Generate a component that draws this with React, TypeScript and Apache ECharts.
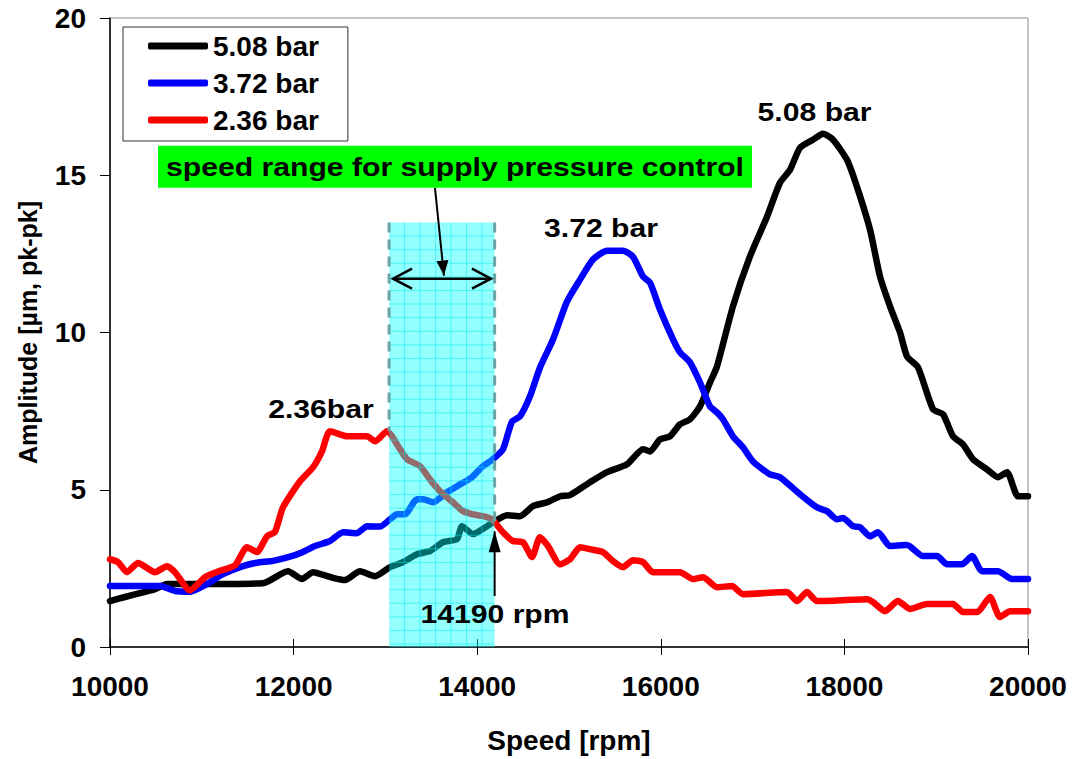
import React, { useEffect, useRef } from "react";
import * as echarts from "echarts";

// ---- Data (speed in rpm, amplitude in µm pk-pk) ----
const SPEED_508 = [10000, 10163, 10359, 10490, 10621, 10850, 11667, 11939, 12091, 12211, 12429, 12560, 12723, 12887, 13050, 13192, 13344, 13486, 13627, 13780, 13834, 13954, 14107, 14172, 14325, 14466, 14608, 14760, 14902, 15011, 15229, 15414, 15632, 15806, 15882, 15991, 16100, 16209, 16318, 16427, 16536, 16612, 16786, 16970, 17157, 17298, 17407, 17516, 17658, 17767, 17876, 18028, 18137, 18279, 18388, 18497, 18606, 18682, 18802, 18965, 19074, 19183, 19292, 19401, 19553, 19673, 19771, 19891, 20000];
const AMP_508 = [1.46, 1.59, 1.74, 1.84, 2.0, 2.0, 2.03, 2.41, 2.16, 2.38, 2.2, 2.13, 2.41, 2.25, 2.54, 2.7, 2.95, 3.05, 3.33, 3.43, 3.84, 3.59, 3.84, 3.97, 4.19, 4.16, 4.48, 4.6, 4.79, 4.83, 5.24, 5.56, 5.81, 6.29, 6.22, 6.6, 6.7, 7.08, 7.24, 7.65, 8.41, 8.92, 10.83, 12.41, 13.68, 14.76, 15.17, 15.87, 16.13, 16.32, 16.13, 15.49, 14.63, 13.27, 11.78, 10.83, 10.0, 9.24, 8.89, 7.56, 7.4, 6.7, 6.44, 5.97, 5.65, 5.4, 5.56, 4.79, 4.79];

const SPEED_372 = [10000, 10545, 10708, 10871, 11057, 11220, 11449, 11601, 11776, 11961, 12102, 12233, 12396, 12538, 12691, 12800, 12941, 13050, 13126, 13213, 13344, 13410, 13518, 13671, 13813, 13943, 14063, 14161, 14281, 14379, 14466, 14575, 14684, 14826, 14978, 15120, 15261, 15414, 15588, 15697, 15806, 15882, 15991, 16133, 16209, 16318, 16427, 16536, 16612, 16677, 16786, 16895, 17004, 17189, 17298, 17516, 17701, 17810, 17919, 17985, 18094, 18170, 18279, 18366, 18497, 18682, 18856, 19009, 19118, 19281, 19390, 19499, 19673, 19826, 20000];
const AMP_372 = [1.94, 1.94, 1.78, 1.76, 2.0, 2.3, 2.57, 2.68, 2.74, 2.87, 3.02, 3.21, 3.37, 3.65, 3.62, 3.84, 3.83, 4.06, 4.22, 4.22, 4.7, 4.7, 4.6, 4.92, 5.17, 5.4, 5.75, 5.95, 6.29, 7.17, 7.33, 7.97, 8.89, 9.78, 10.98, 11.68, 12.32, 12.6, 12.6, 12.41, 11.78, 11.59, 10.73, 9.78, 9.37, 9.05, 8.41, 7.65, 7.46, 7.24, 6.7, 6.35, 5.9, 5.49, 5.4, 4.86, 4.44, 4.32, 4.06, 4.1, 3.84, 3.81, 3.52, 3.65, 3.21, 3.24, 2.89, 2.89, 2.63, 2.63, 2.89, 2.41, 2.41, 2.16, 2.16];

const SPEED_236 = [10000, 10087, 10185, 10305, 10490, 10621, 10708, 10871, 11035, 11176, 11362, 11492, 11601, 11710, 11797, 11884, 12070, 12211, 12309, 12396, 12582, 12800, 12887, 13017, 13159, 13235, 13377, 13486, 13595, 13736, 13845, 13954, 14063, 14161, 14281, 14390, 14499, 14597, 14684, 14771, 14902, 15011, 15120, 15229, 15370, 15479, 15588, 15697, 15806, 15915, 16209, 16350, 16460, 16612, 16775, 16895, 17375, 17483, 17592, 17701, 18246, 18311, 18442, 18584, 18714, 18900, 19183, 19292, 19444, 19586, 19695, 19804, 20000];
const AMP_236 = [2.79, 2.7, 2.38, 2.67, 2.38, 2.57, 2.38, 1.8, 2.22, 2.4, 2.6, 3.17, 3.02, 3.52, 3.66, 4.44, 5.27, 5.71, 6.22, 6.86, 6.7, 6.7, 6.54, 6.86, 6.29, 5.97, 5.75, 5.33, 4.95, 4.6, 4.32, 4.22, 4.16, 4.06, 3.65, 3.37, 3.33, 2.86, 3.49, 3.21, 2.63, 2.79, 3.17, 3.11, 3.02, 2.73, 2.54, 2.76, 2.7, 2.38, 2.38, 2.16, 2.22, 1.9, 1.94, 1.68, 1.75, 1.46, 1.75, 1.46, 1.52, 1.43, 1.14, 1.46, 1.21, 1.37, 1.37, 1.11, 1.11, 1.59, 0.95, 1.14, 1.14];

const SERIES_NAMES = ["5.08 bar", "3.72 bar", "2.36 bar"];
const SERIES_COLORS = ["#000000", "#0000ff", "#ff0000"];

const X_MIN = 10000;
const X_MAX = 20000;
const X_STEP = 2000;
const Y_MIN = 0;
const Y_MAX = 20;
const Y_STEP = 5;

// Annotation anchors (data coordinates)
const SHADE_FROM = 13040;
const SHADE_TO = 14190;
const SHADE_TOP = 13.5;
const DASH_LEFT_BOTTOM = 6.86;
const DASH_RIGHT_BOTTOM = 4.0;
const RANGE_ARROW_Y = 11.71;
const RANGE_ARROW_FROM = 13083;
const RANGE_ARROW_TO = 14150;
const BOX_LEFT = 10523;
const BOX_RIGHT = 16993;
const BOX_TOP = 15.94;
const BOX_BOTTOM = 14.6;
const BOX_TEXT = "speed range for supply pressure control";
const POINTER_FROM = [13540, 14.6];
const POINTER_TO = [13638, 11.81];
const RPM_ARROW_FROM = [14190, 1.62];
const RPM_ARROW_TO = [14190, 3.68];
const RPM_TEXT = "14190 rpm";
const RPM_TEXT_AT = [14194, 1.05];
const PEAK_LABELS = [
  { text: "5.08 bar", at: [17675, 17.0] },
  { text: "3.72 bar", at: [15349, 13.33] },
  { text: "2.36bar", at: [12298, 7.56] },
];

const FONT = "'Liberation Sans', Arial, Helvetica, sans-serif";

const zip = (xs: number[], ys: number[]) => xs.map((x, i) => [x, ys[i]]);

function arrowHead(tip: number[], from: number[], len: number, half: number) {
  const dx = tip[0] - from[0];
  const dy = tip[1] - from[1];
  const d = Math.hypot(dx, dy) || 1;
  const ux = dx / d;
  const uy = dy / d;
  const bx = tip[0] - ux * len;
  const by = tip[1] - uy * len;
  return [
    [tip[0], tip[1]],
    [bx - uy * half, by + ux * half],
    [bx + uy * half, by - ux * half],
  ];
}

function textEl(text: string, p: number[], size: number) {
  return {
    type: "text",
    x: p[0],
    y: p[1],
    scaleX: 1.16,
    style: {
      text,
      fontSize: size,
      fontWeight: "bold",
      fontFamily: FONT,
      fill: "#000",
      align: "center",
      verticalAlign: "middle",
    },
  };
}

function renderAnnotations(_params: any, api: any) {
  const c = (x: number, y: number) => api.coord([x, y]);
  const [sx0, sy0] = c(SHADE_FROM, SHADE_TOP);
  const [sx1, sy1] = c(SHADE_TO, Y_MIN);
  const kids: any[] = [];

  // shaded speed range
  kids.push({
    type: "rect",
    shape: { x: sx0, y: sy0, width: sx1 - sx0, height: sy1 - sy0 },
    style: { fill: "rgba(0,255,255,0.42)" },
  });
  for (let gx = sx0 + 15.5; gx < sx1 - 3; gx += 15.5) {
    kids.push({
      type: "line",
      shape: { x1: gx, y1: sy0, x2: gx, y2: sy1 },
      style: { stroke: "rgba(0,235,245,0.5)", lineWidth: 1 },
    });
  }
  for (let gy = sy0 + 13.6; gy < sy1 - 2; gy += 13.6) {
    kids.push({
      type: "line",
      shape: { x1: sx0, y1: gy, x2: sx1, y2: gy },
      style: { stroke: "rgba(0,235,245,0.5)", lineWidth: 1 },
    });
  }
  // dashed edges
  const [, dl] = c(SHADE_FROM, DASH_LEFT_BOTTOM);
  const [, dr] = c(SHADE_TO, DASH_RIGHT_BOTTOM);
  kids.push({
    type: "line",
    shape: { x1: sx0, y1: sy0, x2: sx0, y2: dl },
    style: { stroke: "#6aa4a4", lineWidth: 3, lineDash: [10, 7] },
  });
  kids.push({
    type: "line",
    shape: { x1: sx1, y1: sy0, x2: sx1, y2: dr },
    style: { stroke: "#6aa4a4", lineWidth: 3, lineDash: [10, 7] },
  });

  // double-headed range arrow
  const a0 = c(RANGE_ARROW_FROM, RANGE_ARROW_Y);
  const a1 = c(RANGE_ARROW_TO, RANGE_ARROW_Y);
  kids.push({
    type: "line",
    shape: { x1: a0[0], y1: a0[1], x2: a1[0], y2: a1[1] },
    style: { stroke: "#000", lineWidth: 2.5 },
  });
  kids.push({
    type: "polyline",
    shape: { points: [[a0[0] + 19, a0[1] - 10], a0, [a0[0] + 19, a0[1] + 10]] },
    style: { stroke: "#000", lineWidth: 2.5, fill: null },
  });
  kids.push({
    type: "polyline",
    shape: { points: [[a1[0] - 19, a1[1] - 10], a1, [a1[0] - 19, a1[1] + 10]] },
    style: { stroke: "#000", lineWidth: 2.5, fill: null },
  });

  // pointer from label box
  const p0 = c(POINTER_FROM[0], POINTER_FROM[1]);
  const p1 = c(POINTER_TO[0], POINTER_TO[1]);
  kids.push({
    type: "line",
    shape: { x1: p0[0], y1: p0[1], x2: p1[0], y2: p1[1] },
    style: { stroke: "#000", lineWidth: 2 },
  });
  kids.push({
    type: "polygon",
    shape: { points: arrowHead(p1, p0, 15, 6) },
    style: { fill: "#000" },
  });

  // 14190 rpm arrow
  const r0 = c(RPM_ARROW_FROM[0], RPM_ARROW_FROM[1]);
  const r1 = c(RPM_ARROW_TO[0], RPM_ARROW_TO[1]);
  kids.push({
    type: "line",
    shape: { x1: r0[0], y1: r0[1], x2: r1[0], y2: r1[1] },
    style: { stroke: "#000", lineWidth: 2 },
  });
  kids.push({
    type: "polygon",
    shape: { points: arrowHead(r1, r0, 21, 6) },
    style: { fill: "#000" },
  });
  kids.push(textEl(RPM_TEXT, c(RPM_TEXT_AT[0], RPM_TEXT_AT[1]), 26));

  // green label box
  const b0 = c(BOX_LEFT, BOX_TOP);
  const b1 = c(BOX_RIGHT, BOX_BOTTOM);
  kids.push({
    type: "rect",
    shape: { x: b0[0], y: b0[1], width: b1[0] - b0[0], height: b1[1] - b0[1] },
    style: { fill: "#00ff00" },
  });
  kids.push(
    textEl(BOX_TEXT, c((BOX_LEFT + BOX_RIGHT) / 2, (BOX_TOP + BOX_BOTTOM) / 2), 26)
  );

  // peak labels
  PEAK_LABELS.forEach((l) => kids.push(textEl(l.text, c(l.at[0], l.at[1]), 26)));

  return { type: "group", children: kids };
}

export default function App() {
  const ref = useRef<HTMLDivElement>(null);

  useEffect(() => {
    if (!ref.current) return;
    const chart = echarts.init(ref.current, null, { renderer: "svg" });
    const tickFont = { fontSize: 28, fontWeight: "bold", fontFamily: FONT, color: "#000" };
    const datasets = [zip(SPEED_508, AMP_508), zip(SPEED_372, AMP_372), zip(SPEED_236, AMP_236)];

    const option: any = {
      animation: false,
      backgroundColor: "#ffffff",
      grid: {
        left: 110,
        right: 45,
        top: 18,
        bottom: 111,
        show: true,
        borderColor: "#8a8a8a",
        borderWidth: 1,
        backgroundColor: "transparent",
      },
      legend: {
        data: SERIES_NAMES,
        orient: "vertical",
        left: 123,
        top: 27,
        padding: [5, 29, 7, 25],
        itemGap: 9,
        itemWidth: 60,
        itemHeight: 7,
        icon: "roundRect",
        backgroundColor: "#ffffff",
        borderColor: "#333333",
        borderWidth: 1,
        textStyle: { fontSize: 28, fontWeight: "bold", fontFamily: FONT, color: "#000" },
        selectedMode: false,
      },
      xAxis: [
        {
          type: "value",
          min: X_MIN,
          max: X_MAX,
          interval: X_STEP,
          axisLine: { show: true, onZero: false, lineStyle: { color: "#000", width: 1.5 } },
          axisTick: { show: true, length: 8, lineStyle: { color: "#000", width: 1 } },
          splitLine: { show: false },
          axisLabel: { ...tickFont, margin: 25, formatter: (v: number) => String(v) },
          name: "Speed [rpm]",
          nameLocation: "middle",
          nameGap: 79,
          nameTextStyle: { fontSize: 28, fontWeight: "bold", fontFamily: FONT, color: "#000" },
        },
        {
          type: "value",
          min: X_MIN,
          max: X_MAX,
          interval: X_STEP,
          position: "bottom",
          axisLine: { show: false },
          axisTick: { show: true, inside: true, length: 8, lineStyle: { color: "#000", width: 1 } },
          axisLabel: { show: false },
          splitLine: { show: false },
        },
      ],
      yAxis: {
        type: "value",
        min: Y_MIN,
        max: Y_MAX,
        interval: Y_STEP,
        axisLine: { show: true, onZero: false, lineStyle: { color: "#000", width: 1.5 } },
        axisTick: { show: true, length: 10, lineStyle: { color: "#000", width: 1 } },
        splitLine: { show: false },
        axisLabel: { ...tickFont, margin: 24, formatter: (v: number) => String(v) },
        name: "Amplitude [µm, pk-pk]",
        nameLocation: "middle",
        nameGap: 70,
        nameTextStyle: { fontSize: 25, fontWeight: "bold", fontFamily: FONT, color: "#000" },
      },
      series: [
        ...SERIES_NAMES.map((name, i) => ({
          name,
          type: "line",
          xAxisIndex: 0,
          data: datasets[i],
          showSymbol: false,
          symbol: "none",
          smooth: 0.2,
          z: 2 + i,
          lineStyle: { color: SERIES_COLORS[i], width: 6.5, cap: "round", join: "round" },
          itemStyle: { color: SERIES_COLORS[i] },
        })),
        {
          name: "annotations",
          type: "custom",
          xAxisIndex: 0,
          coordinateSystem: "cartesian2d",
          data: [[SHADE_FROM, SHADE_TOP]],
          renderItem: renderAnnotations,
          silent: true,
          clip: false,
          z: 10,
        },
      ],
    };

    chart.setOption(option);
    return () => chart.dispose();
  }, []);

  return (
    <div
      ref={ref}
      style={{ position: "absolute", left: 0, top: 0, width: 1073, height: 759, background: "#fff" }}
    />
  );
}
